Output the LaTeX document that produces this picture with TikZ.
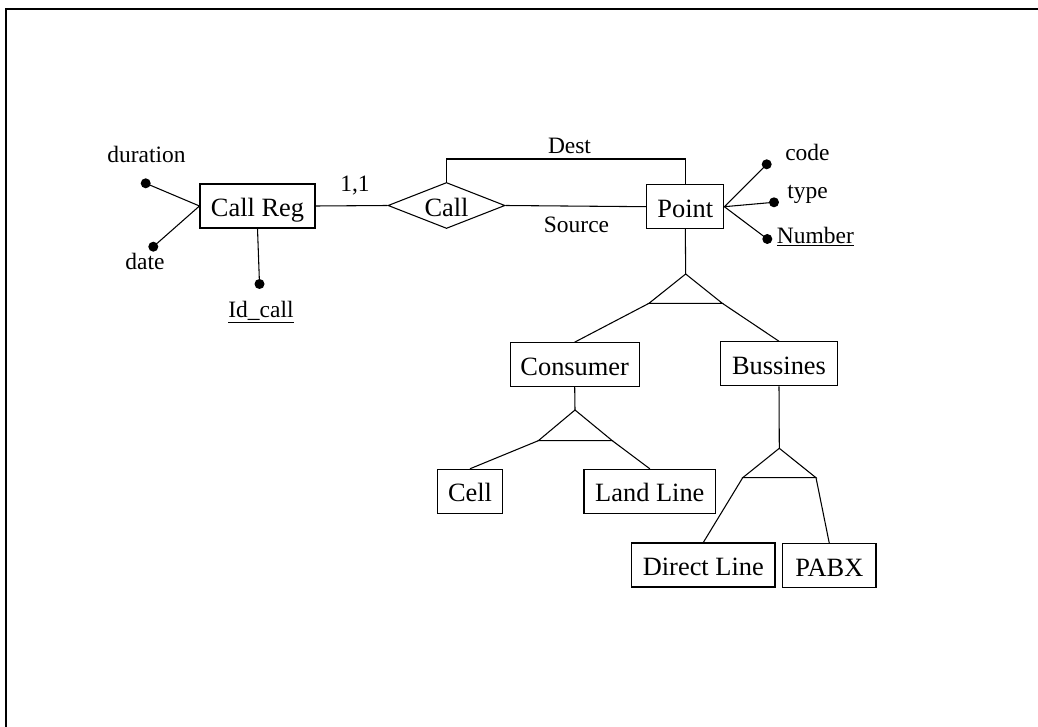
\documentclass[tikz,border=0pt]{standalone}
\usepackage{fontspec}
\setmainfont{Liberation Serif}
\usetikzlibrary{shapes.geometric}

\tikzset{
  line/.style={draw=black, line width=0.8pt},
  entity/.style={line, rectangle, inner sep=0pt, minimum height=33pt,
    text height=16pt, text depth=0.2pt,
    font=\fontsize{19.8pt}{24pt}\selectfont},
  relation/.style={line, diamond, aspect=2.5, inner sep=0pt,
    minimum width=87.75pt, minimum height=34.5pt,
    text height=16pt, text depth=0.2pt,
    font=\fontsize{19.8pt}{24pt}\selectfont},
  attrdot/.style={circle, fill=black, inner sep=0pt, minimum size=7.5pt},
  lbl/.style={inner sep=0pt, font=\fontsize{17.6pt}{21pt}\selectfont},
}

\begin{document}
\begin{tikzpicture}[x=0.75pt, y=-0.75pt]
\useasboundingbox (0,0) rectangle (1038,727);

% page frame
\draw[line width=1.5pt] (6,727) -- (6,9) -- (1038,9);

% entities and relationship
\node[entity, minimum width=86.25pt] (callreg) at (257.5,206) {Call Reg};
\node[relation] (call) at (446.5,205.5) {Call};
\node[entity, minimum width=57.75pt] (point) at (685.3,206.7) {Point};
\node[entity, minimum width=97pt] (consumer) at (574.7,364.7) {Consumer};
\node[entity, minimum width=87.5pt] (bussines) at (779,363.8) {Bussines};
\node[entity, minimum width=49pt] (cell) at (470,491.3) {Cell};
\node[entity, minimum width=98.75pt] (landline) at (649.8,491.3) {Land Line};
\node[entity, minimum width=107.5pt] (directline) at (703.3,565) {Direct Line};
\node[entity, minimum width=70pt] (pabx) at (829.3,565.8) {PABX};

% attributes of Call Reg
\node[attrdot] (durdot) at (145.7,183.3) {};
\node[attrdot] (datedot) at (153.3,246.7) {};
\node[attrdot] (iddot) at (259.5,284) {};
\node[lbl, anchor=base] (durlbl) at (146.5,162.3) {duration};
\node[lbl, anchor=base] (datelbl) at (145,270) {date};
\node[lbl, anchor=base] (idlbl) at (261,317.3) {\underline{Id\_call}};
\draw[line] (durdot.center) -- (callreg.west) -- (datedot.center);
\draw[line] (callreg.south) -- (iddot.center);

% attributes of Point
\node[attrdot] (codedot) at (766.7,164.3) {};
\node[attrdot] (typedot) at (774,202.3) {};
\node[attrdot] (numdot) at (767.3,239) {};
\node[lbl, anchor=base west] (codelbl) at (785,160.7) {code};
\node[lbl, anchor=base west] (typelbl) at (787,199) {type};
\node[lbl, anchor=base west] (numlbl) at (776.7,243.3) {\underline{Number}};
\draw[line] (codedot.center) -- (point.east) -- (typedot.center);
\draw[line] (point.east) -- (numdot.center);

% relationship links
\draw[line] (callreg.east) -- (call.west);
\node[lbl, anchor=base] (card) at (355,191.7) {1,1};
\coordinate (destmid) at (566,159);
\draw[line] (call.north) |- (destmid) -| (point.north);
\node[lbl, anchor=base] (destlbl) at (569.5,153.3) {Dest};
\draw[line] (call.east) -- (point.west);
\node[lbl, anchor=base] (srclbl) at (576.5,232.7) {Source};

% generalisation of Point
\coordinate (isaA) at (685.7,274);
\coordinate (isaAl) at (649,303.3);
\coordinate (isaAr) at (722.3,303.3);
\draw[line] (isaA) -- (isaAl) -- (isaAr) -- cycle;
\draw[line] (point.south) -- (isaA);
\draw[line] (isaAl) -- (consumer.north);
\draw[line] (isaAr) -- (bussines.north);

% generalisation of Consumer
\coordinate (isaB) at (575,410);
\coordinate (isaBl) at (538.3,440.7);
\coordinate (isaBr) at (612.3,440.7);
\draw[line] (isaB) -- (isaBl) -- (isaBr) -- cycle;
\draw[line] (consumer.south) -- (isaB);
\draw[line] (isaBl) -- (cell.north);
\draw[line] (isaBr) -- (landline.north);

% generalisation of Bussines
\coordinate (isaC) at (779.3,448.3);
\coordinate (isaCl) at (742.7,477.7);
\coordinate (isaCr) at (816,477.7);
\draw[line] (isaC) -- (isaCl) -- (isaCr) -- cycle;
\draw[line] (bussines.south) -- (isaC);
\draw[line] (isaCl) -- (directline.north);
\draw[line] (isaCr) -- (pabx.north);
\end{tikzpicture}
\end{document}
